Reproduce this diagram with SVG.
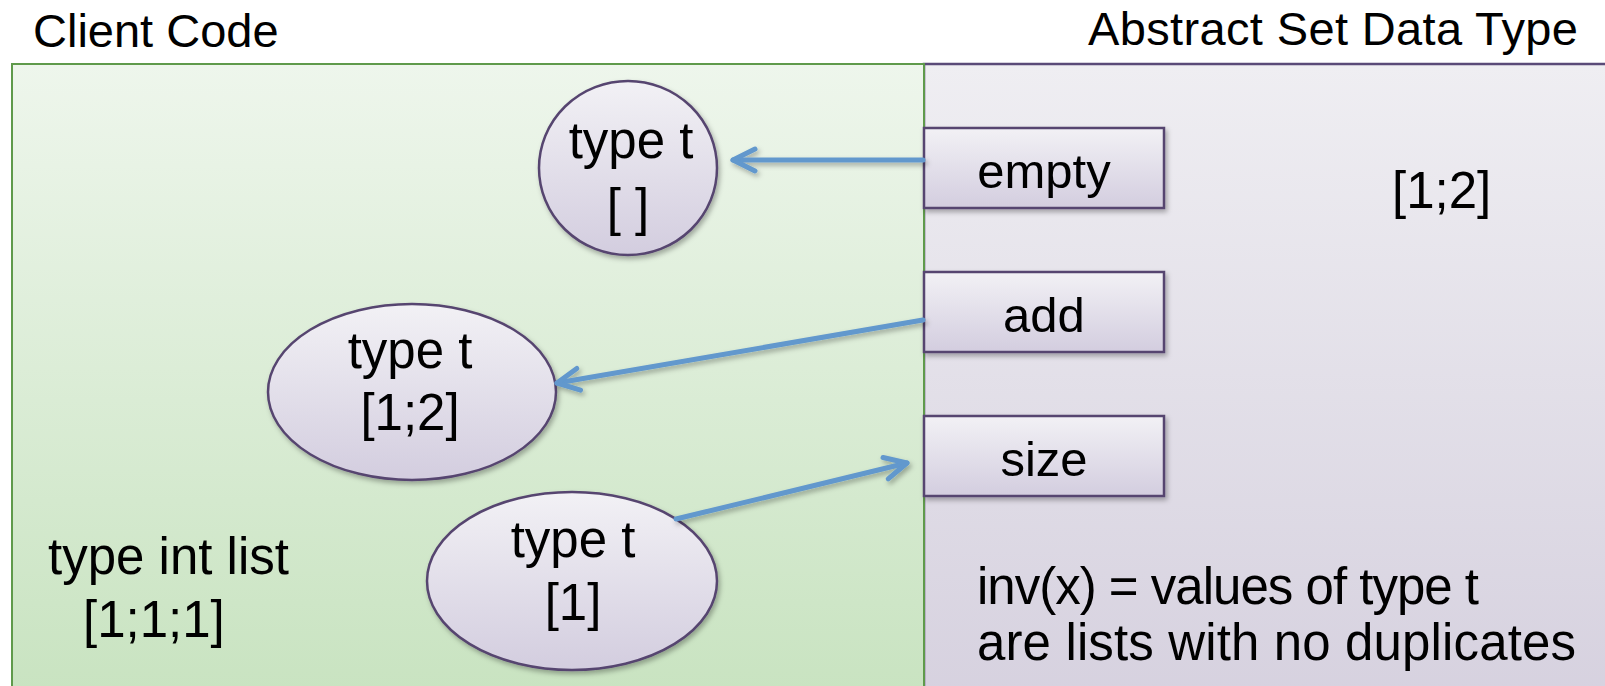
<svg xmlns="http://www.w3.org/2000/svg" width="1605" height="686" viewBox="0 0 1605 686">
<style>
text{font-family:"Liberation Sans",Arial,sans-serif;font-size:51px;fill:#000}
.title{font-size:47px}
.box{font-size:49px}
.c{text-anchor:middle}
.node{fill:url(#nodeG);stroke:#56456f;stroke-width:2.5}
.conn{fill:none;stroke:#6298cd;stroke-width:5;stroke-linecap:round;marker-end:url(#arr)}
</style>
<defs>
<linearGradient id="greenG" x1="0" y1="0" x2="0" y2="1">
<stop offset="0" stop-color="#eef6ec"/>
<stop offset="1" stop-color="#c8e3c0"/>
</linearGradient>
<linearGradient id="purpG" x1="0" y1="0" x2="0" y2="1">
<stop offset="0" stop-color="#efeef2"/>
<stop offset="1" stop-color="#d6d1df"/>
</linearGradient>
<linearGradient id="nodeG" x1="0" y1="0" x2="0" y2="1">
<stop offset="0" stop-color="#f2f1f5"/>
<stop offset="1" stop-color="#d3cddf"/>
</linearGradient>
<filter id="sh" x="-10%" y="-10%" width="125%" height="130%">
<feDropShadow dx="2" dy="3" stdDeviation="2.5" flood-color="#000" flood-opacity="0.3"/>
</filter>
<marker id="arr" markerUnits="userSpaceOnUse" markerWidth="40" markerHeight="40" viewBox="-30 -20 40 40" refX="0" refY="0" orient="auto">
<path d="M-22,-11 L0,0 L-22,11" fill="none" stroke="#6298cd" stroke-width="5" stroke-linecap="round" stroke-linejoin="round"/>
</marker>
</defs>

<g id="abstract-panel">
<rect x="924" y="64" width="700" height="640" fill="url(#purpG)" stroke="#5a4a78" stroke-width="2.5"/>
</g>
<g id="client-panel">
<rect x="12" y="64" width="912" height="640" fill="url(#greenG)" stroke="#5f9a4b" stroke-width="2"/>
</g>

<text id="title-client" class="title" x="33" y="47">Client Code</text>
<text id="title-abstract" class="title" x="1578" y="45" text-anchor="end" textLength="490" lengthAdjust="spacing">Abstract Set Data Type</text>

<g id="node-empty" filter="url(#sh)">
<rect class="node" x="924" y="128" width="240" height="80"/>
<text class="c box" x="1044" y="188">empty</text>
</g>
<g id="node-add" filter="url(#sh)">
<rect class="node" x="924" y="272" width="240" height="80"/>
<text class="c box" x="1044" y="332">add</text>
</g>
<g id="node-size" filter="url(#sh)">
<rect class="node" x="924" y="416" width="240" height="80"/>
<text class="c box" x="1044" y="476">size</text>
</g>

<g id="node-t-empty" filter="url(#sh)">
<ellipse class="node" cx="628" cy="168" rx="89" ry="87"/>
<text class="c" x="631" y="158">type t</text>
<text class="c" x="628" y="225">[ ]</text>
</g>
<g id="node-t-12" filter="url(#sh)">
<ellipse class="node" cx="412" cy="392" rx="144" ry="88"/>
<text class="c" x="410" y="368">type t</text>
<text class="c" x="410" y="430">[1;2]</text>
</g>
<g id="node-t-1" filter="url(#sh)">
<ellipse class="node" cx="572" cy="581" rx="145" ry="89"/>
<text class="c" x="573" y="557">type t</text>
<text class="c" x="573" y="620">[1]</text>
</g>

<g id="connectors" filter="url(#sh)">
<line class="conn" x1="923" y1="160" x2="733" y2="160"/>
<line class="conn" x1="923" y1="320" x2="557" y2="383"/>
<line class="conn" x1="676" y1="519" x2="907" y2="463"/>
</g>

<text id="label-12" x="1392" y="208">[1;2]</text>
<text id="label-intlist" x="48" y="574">type int list</text>
<text id="label-111" x="83" y="637">[1;1;1]</text>
<text id="inv1" x="977" y="604" textLength="502" lengthAdjust="spacing">inv(x) = values of type t</text>
<text id="inv2" x="977" y="660" textLength="599" lengthAdjust="spacing">are lists with no duplicates</text>
</svg>
